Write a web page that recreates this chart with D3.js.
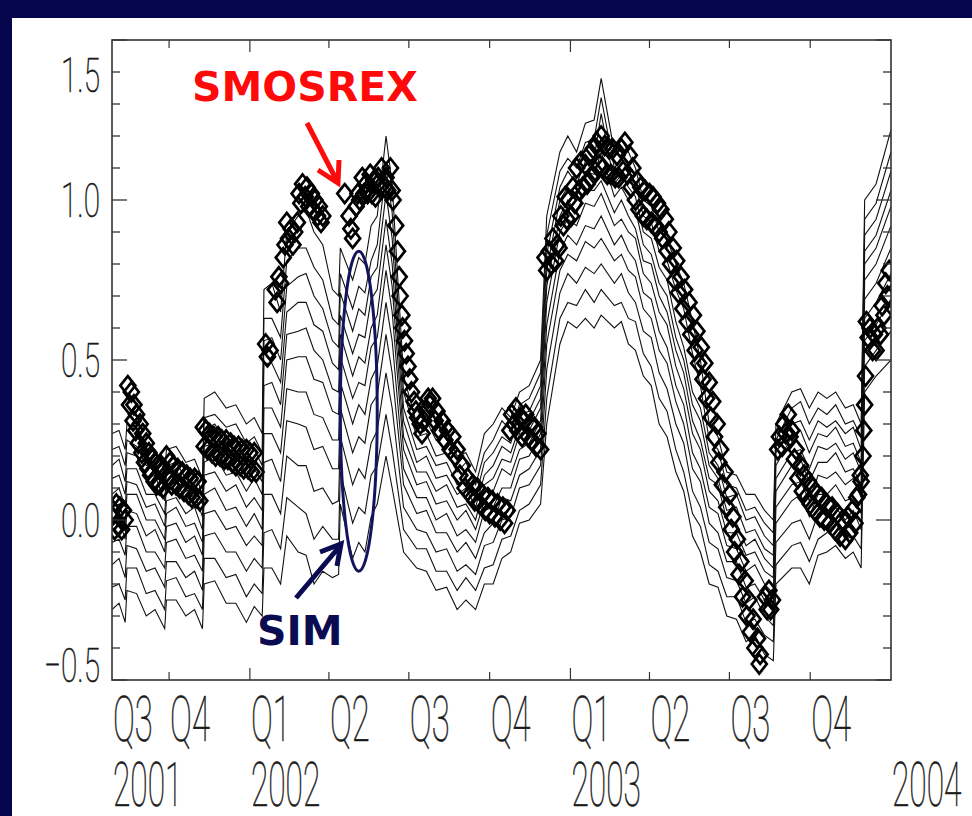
<!DOCTYPE html>
<html><head><meta charset="utf-8">
<script src="https://cdn.jsdelivr.net/npm/d3@7/dist/d3.min.js"></script>
<style>html,body{margin:0;padding:0;background:#fff;overflow:hidden;width:972px;height:816px}svg{display:block;position:fixed;left:0;top:0}</style>
</head><body>
<svg id="chart" width="972" height="816"></svg>
<script>
// ---------- DATA ----------
const startDate = "2001-07-28";
const endDate = "2004-01-01";

// sample days for the simulations (days after startDate)
const simDays = [0,8,15,17,28,39,49,60,62,73,84,94,103,105,117,130,141,153,162,171,173,182,192,199,212,221,230,240,251,258,260,274,281,288,295,302,312,319,332,347,358,369,381,393,403,414,424,434,444,454,464,475,488,495,510,519,529,539,549,557,572,580,588,596,605,614,623,632,642,651,661,670,680,690,700,711,722,732,743,753,756,774,784,794,804,814,824,835,844,853,857,870,887];

const sim01 = [.27,.28,.22,.30,.29,.22,.22,.15,.22,.23,.18,.19,.13,.38,.40,.35,.36,.30,.32,.27,.72,.74,.65,.90,.95,.97,.90,.86,.72,.70,.85,.75,.82,.80,.92,.95,1.2,1.05,.45,.30,.31,.25,.27,.20,.21,.15,.27,.30,.35,.32,.40,.42,.50,.95,1.15,1.2,1.15,1.24,1.25,1.38,1.15,1.19,1.15,1.1,1.0,.98,.90,.88,.80,.74,.62,.50,.30,.26,.15,.14,.08,.08,.03,0,.30,.40,.41,.35,.40,.38,.40,.35,.36,.30,1.0,1.05,1.22];
const sim02 = [.22,.23,.17,.25,.23,.17,.18,.10,.17,.18,.13,.15,.08,.32,.33,.29,.30,.24,.26,.21,.63,.63,.57,.81,.85,.85,.79,.75,.63,.61,.77,.66,.73,.71,.81,.86,1.1,.96,.40,.26,.27,.20,.21,.15,.18,.11,.21,.25,.31,.28,.36,.38,.46,.89,1.09,1.13,1.10,1.18,1.19,1.32,1.10,1.13,1.09,1.05,.95,.93,.84,.81,.72,.66,.52,.42,.25,.22,.11,.10,.03,.04,-.01,-.04,.25,.35,.37,.30,.35,.33,.36,.30,.31,.26,.94,.99,1.15];
const sim03 = [.17,.19,.12,.21,.20,.13,.14,.06,.14,.16,.09,.10,.05,.28,.30,.24,.25,.19,.22,.17,.56,.57,.50,.73,.76,.77,.70,.66,.56,.54,.71,.59,.66,.64,.76,.79,1.02,.88,.35,.22,.23,.17,.18,.11,.12,.07,.18,.21,.26,.24,.33,.34,.42,.83,1.04,1.09,1.05,1.12,1.13,1.27,1.05,1.08,1.04,1.01,.90,.88,.79,.75,.62,.54,.40,.35,.21,.17,.07,.08,0,.01,-.05,-.08,.21,.30,.31,.25,.31,.29,.31,.27,.29,.22,.89,.94,1.09];
const sim04 = [.13,.14,.08,.16,.16,.08,.08,.02,.10,.12,.06,.08,.01,.23,.24,.19,.21,.14,.16,.12,.49,.49,.43,.65,.68,.68,.61,.59,.49,.47,.64,.52,.58,.57,.69,.72,.94,.80,.31,.18,.20,.13,.14,.08,.10,.04,.14,.17,.23,.21,.29,.31,.38,.78,1.0,1.04,1.01,1.09,1.08,1.15,1.01,1.04,1.0,.97,.86,.83,.74,.70,.57,.50,.36,.31,.17,.13,.03,.04,-.04,-.03,-.09,-.11,.17,.26,.28,.21,.27,.26,.29,.23,.24,.18,.84,.89,1.03];
const sim05 = [.08,.10,.04,.12,.11,.04,.05,-.02,.06,.07,.02,.04,-.03,.18,.20,.14,.15,.09,.13,.08,.42,.43,.36,.58,.59,.60,.53,.50,.41,.40,.58,.45,.51,.49,.60,.64,.86,.73,.26,.15,.15,.09,.11,.04,.05,0,.11,.13,.19,.18,.27,.28,.35,.73,.95,1.0,.96,1.03,1.03,1.06,.96,1.0,.95,.91,.81,.80,.70,.65,.53,.46,.31,.25,.13,.11,0,-.01,-.08,-.06,-.12,-.15,.13,.21,.22,.16,.23,.22,.24,.19,.21,.15,.80,.85,.98];
const sim06 = [.04,.05,-.01,.08,.08,0,0,-.06,.02,.04,-.02,-.01,-.07,.14,.15,.09,.11,.04,.07,.03,.35,.35,.29,.50,.51,.51,.44,.43,.34,.33,.51,.38,.43,.42,.54,.57,.78,.65,.22,.11,.12,.05,.06,0,.03,-.03,.06,.09,.16,.14,.22,.24,.31,.68,.90,.94,.92,.99,.98,1.02,.92,.94,.90,.88,.77,.74,.65,.61,.48,.41,.27,.22,.09,.06,-.04,-.04,-.11,-.10,-.16,-.18,.09,.17,.19,.12,.18,.18,.21,.15,.16,.11,.75,.80,.92];
const sim07 = [-.02,0,-.06,.03,.02,-.05,-.03,-.10,-.02,-.01,-.07,-.05,-.11,.08,.10,.03,.04,-.02,.02,-.03,.27,.27,.21,.41,.40,.40,.33,.32,.25,.25,.43,.30,.36,.33,.44,.48,.68,.56,.16,.07,.07,0,.02,-.05,-.03,-.07,.03,.04,.10,.10,.19,.20,.27,.61,.84,.89,.86,.92,.91,.95,.86,.89,.84,.81,.71,.69,.59,.54,.42,.36,.21,.16,.04,.02,-.08,-.09,-.16,-.14,-.20,-.23,.04,.11,.12,.06,.14,.13,.15,.11,.13,.07,.69,.74,.85];
const sim08 = [-.07,-.06,-.11,-.02,-.02,-.10,-.10,-.15,-.07,-.06,-.12,-.11,-.16,.02,.03,-.03,-.02,-.08,-.05,-.08,.18,.19,.12,.31,.30,.29,.22,.23,.16,.16,.35,.21,.26,.24,.36,.39,.58,.46,.11,.02,.03,-.04,-.04,-.10,-.07,-.12,-.04,-.01,.07,.06,.14,.16,.22,.55,.78,.83,.81,.87,.85,.88,.81,.83,.78,.76,.66,.63,.53,.49,.37,.30,.16,.12,-.01,-.04,-.13,-.13,-.21,-.20,-.25,-.27,-.01,.06,.08,.01,.08,.08,.11,.06,.07,.02,.63,.68,.77];
const sim09 = [-.14,-.12,-.18,-.08,-.09,-.16,-.15,-.21,-.13,-.13,-.18,-.16,-.22,-.05,-.04,-.10,-.10,-.16,-.12,-.15,.08,.08,.02,.20,.17,.17,.09,.10,.05,.06,.26,.11,.16,.13,.24,.28,.46,.35,.04,-.03,-.04,-.10,-.09,-.16,-.14,-.17,-.08,-.07,0,.01,.10,.11,.17,.47,.71,.77,.74,.79,.77,.80,.74,.77,.71,.68,.59,.57,.46,.41,.30,.24,.09,.04,-.07,-.09,-.18,-.19,-.26,-.24,-.30,-.33,-.07,-.01,0,-.06,.02,.02,.04,0,.03,-.03,.56,.61,.69];
const sim10 = [-.21,-.20,-.25,-.15,-.15,-.23,-.22,-.28,-.19,-.18,-.24,-.23,-.28,-.12,-.12,-.18,-.17,-.24,-.20,-.23,-.04,-.03,-.09,.07,.04,.02,-.06,-.02,-.06,-.06,.15,-.01,.04,.02,.14,.17,.33,.22,-.03,-.09,-.09,-.16,-.16,-.22,-.18,-.22,-.15,-.14,-.06,-.05,.03,.05,.11,.38,.63,.68,.67,.72,.68,.72,.67,.68,.63,.62,.52,.48,.38,.34,.22,.15,.02,-.02,-.14,-.16,-.24,-.24,-.32,-.31,-.36,-.38,-.14,-.08,-.07,-.13,-.06,-.04,-.01,-.06,-.05,-.09,.48,.53,.59];
const sim11 = [-.28,-.26,-.32,-.22,-.23,-.30,-.28,-.34,-.25,-.25,-.30,-.28,-.34,-.20,-.19,-.26,-.26,-.32,-.27,-.30,-.15,-.15,-.20,-.05,-.10,-.11,-.20,-.16,-.18,-.17,.05,-.12,-.07,-.10,.01,.05,.20,.10,-.10,-.15,-.16,-.22,-.21,-.28,-.25,-.28,-.20,-.20,-.12,-.10,-.01,0,.05,.30,.55,.62,.60,.63,.60,.64,.60,.62,.55,.53,.45,.42,.30,.26,.15,.09,-.05,-.10,-.20,-.21,-.30,-.31,-.38,-.36,-.42,-.44,-.20,-.15,-.15,-.20,-.11,-.10,-.08,-.12,-.10,-.15,.40,.45,.50];

// SMOSREX observations: [days after startDate, value]
const smosrex = [[1,.03],[3,-.03],[5,.05],[7,-.02],[9,.04],[11,-.03],[13,.03],[15,0],
[18,.42],[20,.36],[22,.40],[24,.31],[25,.36],[27,.28],[28,.33],[30,.24],[32,.30],[34,.21],[35,.27],[37,.18],[39,.24],[41,.16],[42,.21],[44,.14],[46,.19],[48,.12],[49,.18],[51,.11],[52,.17],[54,.11],[56,.17],[58,.10],[59,.16],
[62,.20],[64,.13],[66,.18],[68,.11],[70,.17],[73,.11],[75,.16],[77,.10],[80,.15],[82,.09],[85,.14],[87,.08],[89,.13],[91,.07],[94,.13],[96,.07],[98,.12],[100,.06],
[104,.29],[105,.23],[107,.28],[109,.22],[111,.27],[114,.21],[116,.26],[118,.20],[121,.26],[123,.20],[125,.25],[128,.19],[130,.25],[132,.19],[135,.24],[137,.18],[139,.23],[141,.17],[144,.23],[146,.17],[148,.22],[150,.16],[153,.22],[155,.16],[157,.21],[159,.15],[162,.21],[164,.15],
[175,.55],[177,.51],[180,.53],
[186,.72],[188,.68],[190,.76],[192,.74],[195,.82],[197,.86],[199,.93],[201,.88],[204,.91],[206,.86],[208,.90],[211,.93],[213,1.02],[215,.99],[217,1.05],[220,1.01],[222,1.04],[224,.98],[227,1.02],[229,.97],[231,1.0],[234,.95],[236,.98],[238,.93],[240,.95],
[265,1.02],[270,.95],[272,.91],[274,.88],
[278,.98],[280,1.02],[282,1.0],[285,1.07],[287,1.02],[289,1.05],[291,1.02],[294,1.08],[296,1.02],[298,1.06],[300,1.01],[303,1.07],[305,1.04],[307,1.10],[310,1.04],[312,1.07],[314,1.03],[317,1.10],[319,1.03],[320,1.0],[323,.92],[325,.84],[327,.76],[328,.70],[330,.64],[331,.60],[333,.56],[335,.52],[337,.48],[339,.44],[341,.40],[344,.37],[346,.34],[348,.32],[351,.30],[353,.27],[355,.31],[358,.34],[360,.38],[362,.36],[365,.38],[368,.31],[370,.34],[373,.28],[376,.31],[379,.25],[382,.28],[385,.22],[388,.26],[391,.20],[393,.22],[396,.14],[399,.17],[402,.10],[405,.13],[408,.08],[411,.11],[413,.06],[416,.10],[419,.05],[422,.08],[425,.03],[428,.07],[430,.02],[433,.06],[436,.01],[439,.05],[442,0],[445,.04],[447,-.01],[450,.03],
[453,.28],[455,.33],[458,.30],[460,.35],[462,.28],[465,.32],[467,.26],[469,.31],[471,.33],[474,.26],[476,.30],[478,.25],[481,.29],[483,.23],[485,.27],[488,.22],
[493,.82],[495,.78],[498,.84],[500,.80],[502,.88],[505,.81],[507,.86],[509,.85],[511,.95],[514,.92],[516,1.01],[518,.94],[520,1.0],[523,.95],[525,1.04],[527,.99],[529,1.10],[532,1.03],[534,1.12],[536,1.04],[539,1.11],[541,1.05],[543,1.14],[546,1.07],[548,1.16],[550,1.09],[552,1.18],[555,1.11],[557,1.2],[559,1.10],[561,1.17],[564,1.08],[566,1.16],[568,1.08],[570,1.16],[573,1.07],[575,1.14],[577,1.07],[580,1.16],[582,1.09],[584,1.18],[587,1.08],[589,1.14],[591,1.04],[593,1.10],[596,1.0],[598,1.06],[600,.97],[602,1.04],[605,.95],[607,1.03],[609,.94],[612,1.02],[614,.93],[616,1.01],[618,.92],[621,.99],[623,.90],[625,.97],[627,.88],[630,.94],[632,.84],[634,.90],[636,.80],[639,.85],[641,.75],[643,.81],[645,.71],[648,.76],[650,.66],[652,.72],[655,.62],[657,.68],[659,.58],[662,.64],[664,.53],[666,.59],[668,.49],[671,.54],[673,.44],[675,.49],[677,.38],[680,.43],[682,.32],[684,.37],[686,.26],[689,.30],[691,.18],[693,.22],[695,.11],[698,.15],[700,.04],[703,.08],[705,-.03],[707,.01],[709,-.10],[712,-.06],[714,-.17],[716,-.13],[718,-.24],[721,-.19],[723,-.30],[725,-.25],[727,-.35],[730,-.31],[732,-.40],[735,-.37],[737,-.45],[738,-.42],
[744,-.24],[746,-.28],[748,-.22],[750,-.28],[752,-.25],
[758,.22],[760,.26],[763,.23],[765,.30],[767,.27],[770,.33],[772,.26],[774,.28],[777,.19],[779,.22],[781,.13],[784,.17],[786,.09],[788,.14],[790,.07],[793,.12],[795,.05],[798,.10],[800,.03],[803,.08],[806,.01],[808,.07],[811,0],[814,.05],[817,-.01],[820,.04],[823,-.03],[826,.02],[829,-.05],[832,0],[835,-.06],[838,.01],[840,-.04],[843,.03],[846,-.01],[848,.07],[850,.08],[852,.14],[853,.12],
[855,.20],[856,.28],[857,.36],[858,.45],
[859,.62],[861,.57],[863,.60],[866,.53],[868,.58],[870,.53],[872,.60],[875,.58],[877,.67],[879,.64],[881,.74],[883,.70],[885,.78]];

const yMajorTicks = [1.5, 1.0, 0.5, 0.0, -0.5];
const yTickLabels = ["1.5", "1.0", "0.5", "0.0", "\u22120.5"];
const quarterTickDates = ["2001-10-01","2002-01-01","2002-04-01","2002-07-01","2002-10-01","2003-01-01","2003-04-01","2003-07-01","2003-10-01"];
const yearTickDates = ["2002-01-01","2003-01-01"];
const quarterLabelDates = ["2001-07-28","2001-10-01","2002-01-01","2002-04-01","2002-07-01","2002-10-01","2003-01-01","2003-04-01","2003-07-01","2003-10-01"];
const quarterLabels = ["Q3","Q4","Q1","Q2","Q3","Q4","Q1","Q2","Q3","Q4"];
const yearLabelDates = ["2001-07-28","2002-01-01","2003-01-01","2004-01-01"];
const yearLabels = ["2001","2002","2003","2004"];

// ---------- DRAW ----------
const parse = d3.timeParse("%Y-%m-%d");
const W = 972, H = 816;
const plot = {left: 112, right: 891, top: 40, bottom: 680};
const svg = d3.select("#chart");

// slide background
svg.append("rect").attr("width", W).attr("height", H).attr("fill", "#06064f");
svg.append("rect").attr("x", 12).attr("y", 18).attr("width", W).attr("height", H).attr("fill", "#ffffff");

const s0 = parse(startDate);
const x = d3.scaleTime().domain([s0, parse(endDate)]).range([plot.left, plot.right]);
const y = d3.scaleLinear().domain([-0.5, 1.5]).range([plot.bottom, plot.top]);
const xd = d => x(d3.timeDay.offset(s0, d));

const g = svg.append("g");
svg.append("clipPath").attr("id", "clip").append("rect")
  .attr("x", plot.left).attr("y", plot.top).attr("width", plot.right - plot.left).attr("height", plot.bottom - plot.top);

const simSeries = [sim01, sim02, sim03, sim04, sim05, sim06, sim07, sim08, sim09, sim10, sim11];
const line = d3.line().x((d, i) => xd(simDays[i])).y(d => y(d));
const lines = g.append("g").attr("clip-path", "url(#clip)");
simSeries.forEach(s => {
  lines.append("path").attr("d", line(s)).attr("fill", "none").attr("stroke", "#111").attr("stroke-width", 1.1);
});

// SMOSREX diamonds
const diam = "M0,-9.5L7.5,0L0,9.5L-7.5,0Z";
lines.selectAll("path.dm").data(smosrex).join("path").attr("class", "dm")
  .attr("transform", d => `translate(${xd(d[0])},${y(d[1])})`)
  .attr("d", diam).attr("fill", "none").attr("stroke", "#000").attr("stroke-width", 2.7);

// frame
const axisColor = "#333";
g.append("rect").attr("x", plot.left).attr("y", plot.top).attr("width", plot.right - plot.left).attr("height", plot.bottom - plot.top)
  .attr("fill", "none").attr("stroke", axisColor).attr("stroke-width", 1.6);

// y ticks (minor every 0.1, major every 0.5), both sides inward
d3.range(-5, 16).map(k => k / 10).forEach(v => {
  const major = yMajorTicks.some(t => Math.abs(t - v) < 1e-9);
  const len = major ? 15 : 8;
  g.append("line").attr("x1", plot.left).attr("x2", plot.left + len).attr("y1", y(v)).attr("y2", y(v)).attr("stroke", axisColor).attr("stroke-width", 1.3);
  g.append("line").attr("x1", plot.right).attr("x2", plot.right - len).attr("y1", y(v)).attr("y2", y(v)).attr("stroke", axisColor).attr("stroke-width", 1.3);
});

// x ticks, bottom & top inward
quarterTickDates.forEach(ds => {
  const len = yearTickDates.includes(ds) ? 12 : 8;
  const xx = x(parse(ds));
  g.append("line").attr("x1", xx).attr("x2", xx).attr("y1", plot.bottom).attr("y2", plot.bottom - len).attr("stroke", axisColor).attr("stroke-width", 1.2);
  g.append("line").attr("x1", xx).attr("x2", xx).attr("y1", plot.top).attr("y2", plot.top + len).attr("stroke", axisColor).attr("stroke-width", 1.2);
});

// labels (thin condensed digits)
const labFont = "Roboto, 'DejaVu Sans', sans-serif";
const yLabelPos = {"1.5": 75, "\u22120.5": 665};
function thinText(tx, ty, sx, size, txt, anchor) {
  g.append("text").attr("transform", `translate(${tx},${ty}) scale(${sx},1)`)
    .attr("text-anchor", anchor || "start").attr("font-family", labFont).attr("font-weight", 100)
    .attr("font-size", size).attr("fill", "#1a1a1a").attr("stroke", "#1a1a1a").attr("stroke-width", 0.7).text(txt);
}
yMajorTicks.forEach((v, i) => {
  const txt = yTickLabels[i];
  const cy = yLabelPos[txt] !== undefined ? yLabelPos[txt] : y(v);
  thinText(100, cy + 17, 0.62, 48, txt, "end");
});
quarterLabels.forEach((t, i) => thinText(x(parse(quarterLabelDates[i])) + 1, 741, 0.52, 63, t));
yearLabels.forEach((t, i) => thinText(x(parse(yearLabelDates[i])) + 1, 806, 0.52, 61, t));

// annotations
const red = "#ff0a0a", navy = "#0b0b52";
g.append("text").attr("x", 192).attr("y", 101).attr("font-family", "'DejaVu Sans', sans-serif").attr("font-weight", "bold")
  .attr("font-size", 41).attr("fill", red).text("SMOSREX");
g.append("path").attr("d", "M307,123 L337,181 M318,170 L338,183 L339,160").attr("fill", "none").attr("stroke", red).attr("stroke-width", 5);
g.append("text").attr("x", 257).attr("y", 645).attr("font-family", "'DejaVu Sans', sans-serif").attr("font-weight", "bold")
  .attr("font-size", 41).attr("fill", navy).text("SIM");
g.append("path").attr("d", "M296,598 L340,546 M320,552 L341,544 L337,566").attr("fill", "none").attr("stroke", navy).attr("stroke-width", 5);
const ec = d3.timeDay.offset(s0, 281);
g.append("ellipse").attr("cx", x(ec)).attr("cy", y(0.34)).attr("rx", x(d3.timeDay.offset(ec, 21)) - x(ec)).attr("ry", y(0) - y(0.5))
  .attr("fill", "none").attr("stroke", "#14145e").attr("stroke-width", 3);
</script>
</body></html>
